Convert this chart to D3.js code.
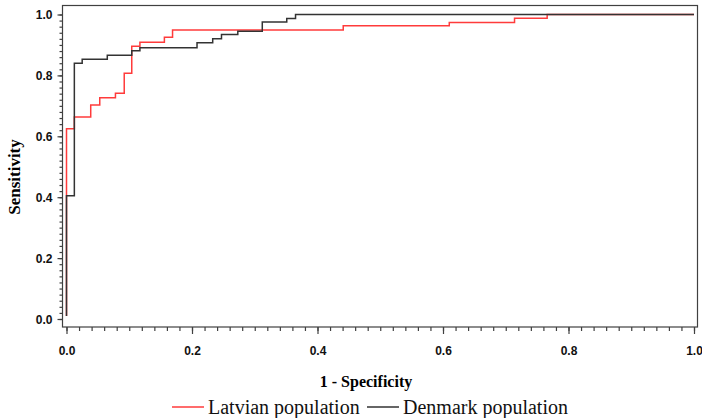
<!DOCTYPE html>
<html>
<head>
<meta charset="utf-8">
<script src="https://cdn.jsdelivr.net/npm/d3@7"></script>
<style>
body{margin:0;background:#fff;}
</style>
</head>
<body>
<svg></svg>
<script>
// ROC step points
var latvianX=[0,0,0.0125,0.0386,0.053,0.078,0.092,0.104,0.117,0.156,0.169,0.441,0.61,0.714,0.766,1.0];
var latvianY=[0.01,0.625,0.663,0.703,0.727,0.741,0.807,0.896,0.909,0.925,0.949,0.963,0.974,0.988,1.0,1.0];
var denmarkX=[0,0,0.0125,0.025,0.065,0.104,0.117,0.208,0.233,0.247,0.273,0.312,0.351,0.365,1.0];
var denmarkY=[0.01,0.405,0.84,0.853,0.866,0.881,0.891,0.907,0.92,0.934,0.945,0.975,0.987,1.0,1.0];
var majorTicks=[0,0.2,0.4,0.6,0.8,1.0];
var seriesNames=["Latvian population","Denmark population"];

var width=702;
var height=418;

var svg=d3.select("svg")
.attr("width",width)
.attr("height",height);

var x=d3.scaleLinear().domain([0,1]).range([66.5,694]);
var y=d3.scaleLinear().domain([0,1]).range([319,14.5]);

var minorTicks=d3.range(0,1.0001,0.02);

// frame
svg.append("rect")
.attr("x",62.5).attr("y",5.5)
.attr("width",635).attr("height",321.5)
.attr("fill","none")
.attr("stroke","#404040")
.attr("stroke-width",1.2);

// y axis ticks
var yAxisMinor=d3.axisLeft(y).tickValues(minorTicks).tickSize(3).tickFormat("");
var yAxisMajor=d3.axisLeft(y).tickValues(majorTicks).tickSize(5).tickPadding(5).tickFormat(d3.format(".1f"));
var yg1=svg.append("g").attr("transform","translate(62.5,0)").call(yAxisMinor);
var yg2=svg.append("g").attr("transform","translate(62.5,0)").call(yAxisMajor);

// x axis ticks
var xAxisMinor=d3.axisBottom(x).tickValues(minorTicks).tickSize(4).tickFormat("");
var xAxisMajor=d3.axisBottom(x).tickValues(majorTicks).tickSize(7).tickPadding(12).tickFormat(d3.format(".1f"));
var xg1=svg.append("g").attr("transform","translate(0,327)").call(xAxisMinor);
var xg2=svg.append("g").attr("transform","translate(0,327)").call(xAxisMajor);

[yg1,yg2,xg1,xg2].forEach(function(g){
  g.select(".domain").remove();
  g.selectAll(".tick line").attr("stroke","#404040").attr("stroke-width",1.2);
  g.selectAll("text")
  .attr("fill","#111")
  .style("font-family","'Liberation Sans',Arial,sans-serif")
  .style("font-weight","bold")
  .style("font-size","12px");
});
yg2.selectAll("text").attr("dy","0.36em");

var line=function(xs,ys){
  var pts=xs.map(function(d,i){return [d,ys[i]];});
  return d3.line()
  .x(function(d){return x(d[0]);})
  .y(function(d){return y(d[1]);})
  .curve(d3.curveStepAfter)(pts);
};

svg.append("path")
.attr("d",line(latvianX,latvianY))
.attr("fill","none")
.attr("stroke","#ff3b3b")
.attr("stroke-width",1.5);

svg.append("path")
.attr("d",line(denmarkX,denmarkY))
.attr("fill","none")
.attr("stroke","#333")
.attr("stroke-width",1.5);

// axis titles
svg.append("text")
.text("1 - Specificity")
.attr("x",366).attr("y",387)
.attr("text-anchor","middle")
.style("font-family","'Liberation Serif','Times New Roman',serif")
.style("font-weight","bold")
.style("font-size","16px");

svg.append("text")
.text("Sensitivity")
.attr("transform","translate(20,177) rotate(-90)")
.attr("text-anchor","middle")
.style("font-family","'Liberation Serif','Times New Roman',serif")
.style("font-weight","bold")
.style("font-size","17px");

// legend
var legendColors=["#ff3b3b","#333"];
var legendX=[172,367];
seriesNames.forEach(function(name,i){
  svg.append("line")
  .attr("x1",legendX[i]).attr("x2",legendX[i]+32)
  .attr("y1",407).attr("y2",407)
  .attr("stroke",legendColors[i])
  .attr("stroke-width",1.5);
  svg.append("text")
  .text(name)
  .attr("x",legendX[i]+36).attr("y",414)
  .style("font-family","'Liberation Serif','Times New Roman',serif")
  .style("font-size","20px")
  .attr("fill","#111");
});
</script>
</body>
</html>
